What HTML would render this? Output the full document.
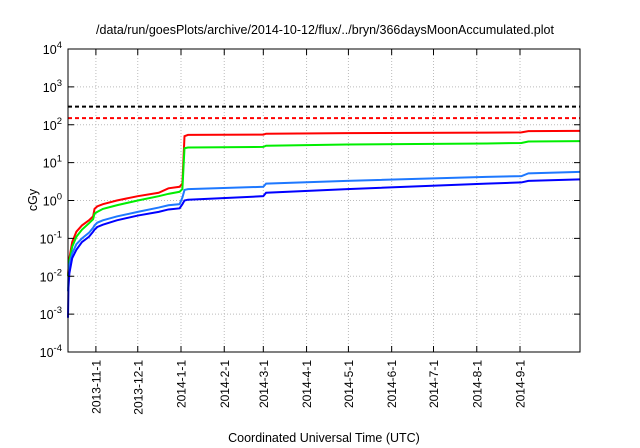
<!DOCTYPE html>
<html><head><meta charset="utf-8"><style>
body{margin:0;background:#fff}
svg{display:block;font-family:"Liberation Sans",sans-serif}
</style></head><body>
<svg id="c" width="640" height="448">
<text x="325" y="34" text-anchor="middle" font-size="12.5">/data/run/goesPlots/archive/2014-10-12/flux/../bryn/366daysMoonAccumulated.plot</text>
<text transform="translate(37,200) rotate(-90)" text-anchor="middle" font-size="12.5">cGy</text>
<text x="324" y="442" text-anchor="middle" font-size="12.5">Coordinated Universal Time (UTC)</text>
<g id="grid"></g><g id="series"></g><g id="axes"></g>
</svg>
<script>
const xTickLabels=["2013-11-1","2013-12-1","2014-1-1","2014-2-1","2014-3-1","2014-4-1","2014-5-1","2014-6-1","2014-7-1","2014-8-1","2014-9-1"];
const xTickDays=[20,50,81,112,140,171,201,232,262,293,324];
const yTickExps=[-4,-3,-2,-1,0,1,2,3,4];
const limitValues=[300,150];
const days=[0,0.3,1,3,6,10,15,18,19,21,25,35,50,65,72,80,82,83.5,86,140,142,200,300,325,330,367];
const redValues=[0.01,0.015,0.03,0.08,0.15,0.22,0.3,0.38,0.6,0.7,0.8,1.0,1.3,1.6,2.1,2.3,2.8,50,54,55,58,60,62,63,68,69];
const greenValues=[0.01,0.013,0.025,0.06,0.11,0.17,0.25,0.32,0.45,0.5,0.6,0.75,1.0,1.3,1.5,1.7,2,24,25,26,28,30,32,33,36,37];
const lightBlueValues=[0.004,0.01,0.02,0.04,0.07,0.1,0.14,0.19,0.22,0.26,0.3,0.38,0.5,0.65,0.75,0.8,1.2,1.9,2.0,2.3,2.8,3.3,4.2,4.4,5.2,5.7];
const darkBlueValues=[0.0008,0.005,0.012,0.03,0.05,0.08,0.11,0.15,0.17,0.2,0.23,0.3,0.4,0.5,0.58,0.62,0.8,1.0,1.05,1.3,1.6,2.0,2.8,3.0,3.3,3.6];
const L=68,R=580,T=49,B=352,DAYS=367;
const x=d=>L+d/DAYS*(R-L);
const y=v=>T+(4-Math.log10(v))/8*(B-T);
const NS="http://www.w3.org/2000/svg";
function mk(p,tag,at){const e=document.createElementNS(NS,tag);for(const k in at)e.setAttribute(k,at[k]);p.appendChild(e);return e;}
const grid=document.getElementById('grid'),axes=document.getElementById('axes'),ser=document.getElementById('series');
xTickDays.forEach((d,i)=>{
 const g=mk(grid,'line',{x1:x(d),x2:x(d),y1:T,y2:B,stroke:'#bbb','stroke-dasharray':'1,2','stroke-width':1});
 
 
 mk(axes,'line',{x1:x(d),x2:x(d),y1:B,y2:B-6,stroke:'#000'});
 mk(axes,'line',{x1:x(d),x2:x(d),y1:T,y2:T+6,stroke:'#000'});
 const t=mk(axes,'text',{transform:`translate(${x(d)+4.5},360) rotate(-90)`,'text-anchor':'end','font-size':12});
 t.textContent=xTickLabels[i];
 
 
});
yTickExps.forEach(e=>{
 const v=Math.pow(10,e);
 if(e>-4&&e<4){const g=mk(grid,'line',{x1:L,x2:R,y1:y(v),y2:y(v),stroke:'#bbb','stroke-dasharray':'1,2'});
 
 }
 mk(axes,'line',{x1:L,x2:L+6,y1:y(v),y2:y(v),stroke:'#000'});
 mk(axes,'line',{x1:R,x2:R-6,y1:y(v),y2:y(v),stroke:'#000'});
 const t=mk(axes,'text',{x:L-6,y:y(v)+5,'text-anchor':'end','font-size':12.5});
 t.innerHTML=`10<tspan dy="-6" font-size="9.5">${e}</tspan>`;
 
 
});
const fr=mk(axes,'rect',{x:L,y:T,width:R-L,height:B-T,fill:'none',stroke:'#000','stroke-width':1});


const lc=['#000','#f00'];
limitValues.forEach((v,i)=>{
 const l=mk(ser,'line',{x1:L,x2:R,y1:y(v),y2:y(v),stroke:lc[i],'stroke-width':2,'stroke-dasharray':'4,3'});
 
 
});
[[redValues,'#f00','red-series'],[greenValues,'#0e0','green-series'],[lightBlueValues,'#1e78ff','light-blue-series'],[darkBlueValues,'#00f','dark-blue-series']].forEach(([vals,c,n])=>{
 const p=mk(ser,'polyline',{points:days.map((d,i)=>x(d)+','+y(vals[i])).join(' '),fill:'none',stroke:c,'stroke-width':2});
 
 
});
</script>
</body></html>
